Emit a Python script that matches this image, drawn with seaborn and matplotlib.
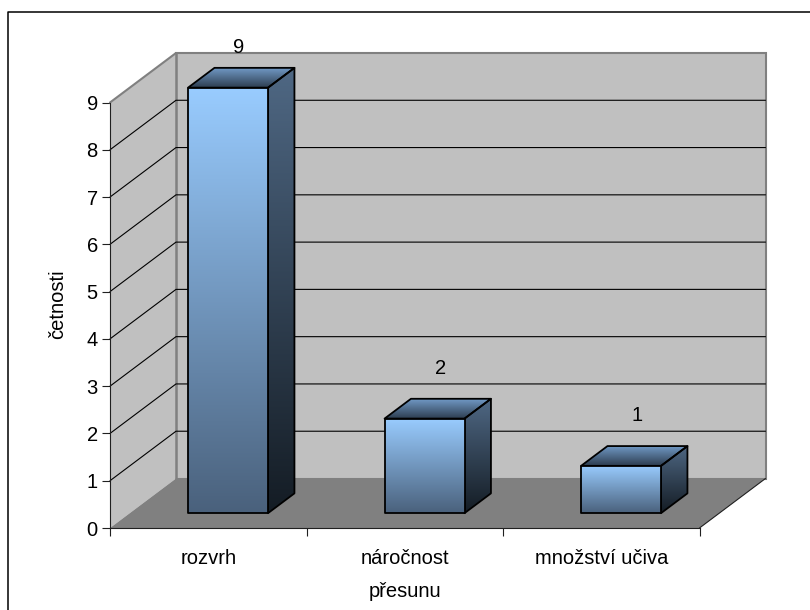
import numpy as np
import pandas as pd
import matplotlib
matplotlib.use("Agg")
import matplotlib.pyplot as plt
from matplotlib.colors import LinearSegmentedColormap
from matplotlib.lines import Line2D
from matplotlib.patches import Polygon, Rectangle
import seaborn as sns

sns.set_theme(style="white")
plt.rcParams["font.family"] = ["Liberation Sans", "DejaVu Sans"]

categories = ["rozvrh", "náročnost\npřesunu", "množství učiva"]
values = [9, 2, 1]
y_ticks = list(range(10))
y_title = "četnosti"

df = pd.DataFrame({"duvod": categories, "cetnost": values})

W, H = 810, 610
FS = 14.5
fig = plt.figure(figsize=(W / 100, H / 100), dpi=100)
fig.patch.set_facecolor("white")

# axes = front plane of the fake 3D box (pixels from the left / top)
left, right, bottom, top = 110, 699.5, 528, 102.5
ax = fig.add_axes([left / W, 1 - bottom / H, (right - left) / W, (bottom - top) / H])
ax.patch.set_alpha(0)

# one unit of depth in data units
DX = 66 / ((right - left) / 3)
DY = 49.5 / ((bottom - top) / 9)


def pr(x, y, d):
    return (x + d * DX, y + d * DY)


sns.barplot(data=df, x="duvod", y="cetnost", width=0.407, ax=ax, color="#99CCFF", zorder=5)
ax.set_xlim(-0.5, 2.5)
ax.set_ylim(0, 9)

# walls and floor
x0, x1 = -0.5, 2.5
wall = "#C0C0C0"
edge = "#808080"
ax.add_patch(Polygon([pr(x0, 0, 1), pr(x1, 0, 1), pr(x1, 9, 1), pr(x0, 9, 1)], fc=wall, ec=edge, lw=1.5, clip_on=False, zorder=1))
ax.add_patch(Polygon([pr(x0, 0, 0), pr(x0, 0, 1), pr(x0, 9, 1), pr(x0, 9, 0)], fc=wall, ec="none", clip_on=False, zorder=1))
ax.add_patch(Polygon([pr(x0, 0, 0), pr(x1, 0, 0), pr(x1, 0, 1), pr(x0, 0, 1)], fc=edge, ec="none", clip_on=False, zorder=2))
ax.plot(*zip(pr(x0, 9, 0), pr(x0, 9, 1)), color=edge, lw=1.5, clip_on=False, zorder=2)
ax.plot(*zip(pr(x0, 0, 1), pr(x0, 9, 1)), color=edge, lw=1.8, clip_on=False, zorder=2)
ax.plot(*zip(pr(x1, 0, 0), pr(x1, 0, 1)), color="#202020", lw=0.8, clip_on=False, zorder=3)

# gridlines
for t in y_ticks[1:-1]:
    ax.plot(*zip(pr(x0, t, 0), pr(x0, t, 1), pr(x1, t, 1)), color="black", lw=0.8, clip_on=False, zorder=3)

front_cm = LinearSegmentedColormap.from_list("front", ["#99CCFF", "#4A617C"])
side_cm = LinearSegmentedColormap.from_list("side", ["#4F6884", "#141C24"])
top_cm = LinearSegmentedColormap.from_list("top", ["#7098C4", "#2C3C4E"])
grad = np.linspace(0, 1, 256).reshape(-1, 1)


def fill(points, cmap, z):
    # gradient image clipped to the polygon of one bar face
    xs, ys = zip(*points)
    im = ax.imshow(grad, cmap=cmap, aspect="auto", extent=(min(xs), max(xs), min(ys), max(ys)), zorder=z)
    ax.add_patch(Polygon(points, fc="none", ec="black", lw=1.3, clip_on=False, joinstyle="round", zorder=z + 0.1))
    im.set_clip_box(fig.bbox)
    im.set_clip_path(Polygon(points, transform=ax.transData, fc="none", ec="none"))


D0, D1 = 0.3, 0.7
bars = [p for p in ax.patches if isinstance(p, Rectangle)]
for bar in bars:
    bx, bw, val = bar.get_x(), bar.get_width(), bar.get_height()
    fill([pr(bx, 0, D0), pr(bx + bw, 0, D0), pr(bx + bw, val, D0), pr(bx, val, D0)], front_cm, 7)
    fill([pr(bx + bw, 0, D0), pr(bx + bw, 0, D1), pr(bx + bw, val, D1), pr(bx + bw, val, D0)], side_cm, 6)
    fill([pr(bx, val, D0), pr(bx + bw, val, D0), pr(bx + bw, val, D1), pr(bx, val, D1)], top_cm, 6)
    bar.set_visible(False)
    # value label above the back of the bar; the tall bar's label is pushed up over the wall
    lx, ly = pr(bx + bw / 2, val, 0.5)
    if val == max(values):
        lx, ly = lx - 0.027, ly + 0.63
    else:
        ly = ly + 0.85
    ax.text(lx + 0.015, ly, f"{val:.0f}", ha="center", va="center", fontsize=FS, color="black", clip_on=False, zorder=9)

ax.set_xlim(-0.5, 2.5)
ax.set_ylim(0, 9)

# axes and ticks
for s in ["left", "bottom"]:
    ax.spines[s].set_visible(True)
    ax.spines[s].set_color("#202020")
    ax.spines[s].set_linewidth(0.8)
    ax.spines[s].set_zorder(4)
ax.spines["top"].set_visible(False)
ax.spines["right"].set_visible(False)
ax.set_yticks(y_ticks)
ax.tick_params(axis="y", length=5.8, width=0.8, color="#202020", pad=3, labelsize=FS, labelcolor="black", left=True)
ax.set_xticks([0, 1, 2])
ax.set_xticklabels(categories, fontsize=FS, color="black", linespacing=1.95)
ax.set_xticks([-0.5, 0.5, 1.5, 2.5], minor=True)
ax.tick_params(axis="x", which="major", length=0, pad=15)
ax.tick_params(axis="x", which="minor", length=5.8, width=0.8, color="#202020", bottom=True)
ax.set_xlabel("")
ax.set_ylabel("")
fig.text(58 / W, 1 - 304 / H, y_title, rotation=90, ha="center", va="center", fontsize=FS, color="black")

# chart frame: only the top and left edges fall inside the picture
fig.add_artist(Line2D([7.5 / W, 7.5 / W, 1], [0, 1 - 11.5 / H, 1 - 11.5 / H], transform=fig.transFigure, color="black", lw=1.1))

fig.savefig("out.png", dpi=100)
